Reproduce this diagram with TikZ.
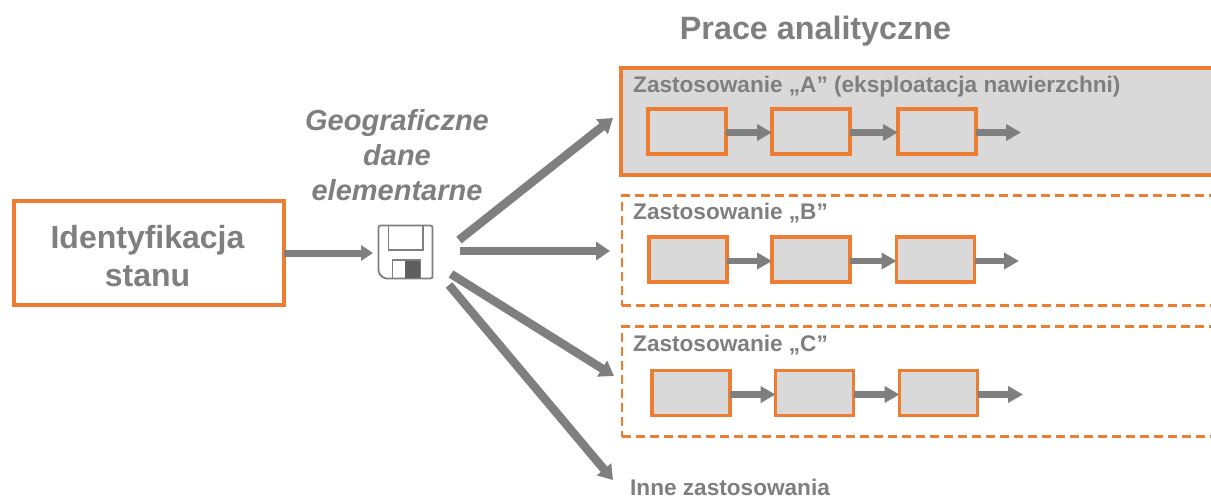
\documentclass[tikz,border=0pt]{standalone}
\usepackage{fontspec}
\setmainfont{Liberation Sans}
\usetikzlibrary{arrows.meta}
\definecolor{org}{HTML}{ED7D31}
\definecolor{gr}{HTML}{7F7F7F}
\definecolor{boxg}{HTML}{D9D9D9}
\tikzset{
  x=1pt,y=-1pt,
  lab/.style={text=gr,font=\bfseries\fontsize{22.6}{26}\selectfont,anchor=base west,inner sep=0pt},
  inbox/.style={draw=org,line width=3.5pt,fill=boxg,minimum width=78pt,minimum height=45pt,inner sep=0pt,outer sep=0pt},
  thinarrow/.style={draw=gr,line width=6.5pt,-{Triangle[length=15pt,width=16pt]}},
  bigarrow/.style={draw=gr,line width=8.5pt,-{Triangle[length=14pt,width=18pt]}},
  medarrow/.style={draw=gr,line width=7pt,-{Triangle[length=12pt,width=15pt]}},
  dashbox/.style={draw=org,line width=2.4pt,dash pattern=on 9pt off 5pt},
}
\begin{document}
\begin{tikzpicture}
\clip (0,0) rectangle (1211,499);
\fill[white] (0,0) rectangle (1211,499);
% title
\node[text=gr,font=\bfseries\fontsize{32.3}{36}\selectfont,anchor=base] (title) at (815.5,39) {Prace analityczne};
% left box
\node[draw=org,line width=4.5pt,minimum width=270pt,minimum height=104pt,inner sep=0pt,outer sep=0pt] (ident) at (149,253) {};
\node[align=center,text=gr,inner sep=0pt,font=\bfseries\fontsize{32}{38}\selectfont] (identtext) at (147.5,256.5) {Identyfikacja\\stanu};
% geo text
\node[text=gr,font=\bfseries\itshape\fontsize{29}{35}\selectfont,align=center,anchor=center] (geo) at (397,155) {Geograficzne\\dane\\elementarne};
% floppy
\node[minimum width=55pt,minimum height=54pt,inner sep=0pt,outer sep=0pt] (floppy) at (405.5,252) {};
\draw[gr,line width=1.8pt,rounded corners=2pt] (378.5,225.5) -- (432.5,225.5) -- (432.5,278.5) -- (384,278.5) -- (378.5,273) -- cycle;
\draw[gr,line width=1.8pt] (388.5,225.5) -- (388.5,250) -- (423,250) -- (423,225.5);
\draw[gr,line width=1.8pt] (392.5,278.5) -- (392.5,260) -- (420,260) -- (420,278.5);
\fill[gr!75!black] (405,260.5) rectangle (419.5,278);
% panels
\node[draw=org,line width=4pt,fill=boxg,minimum width=600pt,minimum height=107pt,inner sep=0pt,outer sep=0pt,anchor=north west] (panelA) at (621,67.5) {};
\node[dashbox,minimum width=600pt,minimum height=110pt,inner sep=0pt,outer sep=0pt,anchor=north west] (panelB) at (622,195.5) {};
\node[dashbox,minimum width=600pt,minimum height=110pt,inner sep=0pt,outer sep=0pt,anchor=north west] (panelC) at (622,326.5) {};
\node[lab] (la) at (633,92) {Zastosowanie „A” (eksploatacja nawierzchni)};
\node[lab] (lb) at (633,219) {Zastosowanie „B”};
\node[lab] (lc) at (633,351) {Zastosowanie „C”};
\node[lab] (ld) at (630,495) {Inne zastosowania};
% row A
\node[inbox] (a1) at (687,131.5) {};
\node[inbox] (a2) at (811,131.5) {};
\node[inbox] (a3) at (937,131.5) {};
\coordinate (a4) at (1021,132.5);
\draw[thinarrow] ([yshift=-1pt]a1.east) -- ([yshift=-1pt]a2.west);
\draw[thinarrow] ([yshift=-1pt]a2.east) -- ([yshift=-1pt]a3.west);
\draw[thinarrow] ([yshift=-1pt]a3.east) -- (a4);
% row B
\node[inbox] (b1) at (688,259.5) {};
\node[inbox] (b2) at (811,259.5) {};
\node[inbox] (b3) at (935.5,259.5) {};
\coordinate (b4) at (1019,261);
\draw[thinarrow] ([yshift=-1.5pt]b1.east) -- ([yshift=-1.5pt]b2.west);
\draw[thinarrow] ([yshift=-1.5pt]b2.east) -- ([yshift=-1.5pt]b3.west);
\draw[thinarrow] ([yshift=-1.5pt]b3.east) -- (b4);
% row C
\node[inbox] (c1) at (691,393) {};
\node[inbox] (c2) at (814.5,393) {};
\node[inbox] (c3) at (938.5,393) {};
\coordinate (c4) at (1023,394.5);
\draw[thinarrow] ([yshift=-1.5pt]c1.east) -- ([yshift=-1.5pt]c2.west);
\draw[thinarrow] ([yshift=-1.5pt]c2.east) -- ([yshift=-1.5pt]c3.west);
\draw[thinarrow] ([yshift=-1.5pt]c3.east) -- (c4);
% main arrows
\coordinate (fe) at (373,253);
\draw[medarrow] (ident.east) -- (fe);
\coordinate (s1) at (459,240);
\coordinate (e1) at (613,118);
\coordinate (s2) at (460,251);
\coordinate (e2) at (610,251);
\coordinate (s3) at (451,274);
\coordinate (e3) at (614,376);
\coordinate (s4) at (449,285);
\coordinate (e4) at (613,480);
\draw[bigarrow] (s1) -- (e1);
\draw[bigarrow] (s2) -- (e2);
\draw[bigarrow] (s3) -- (e3);
\draw[bigarrow] (s4) -- (e4);
\end{tikzpicture}
\end{document}
